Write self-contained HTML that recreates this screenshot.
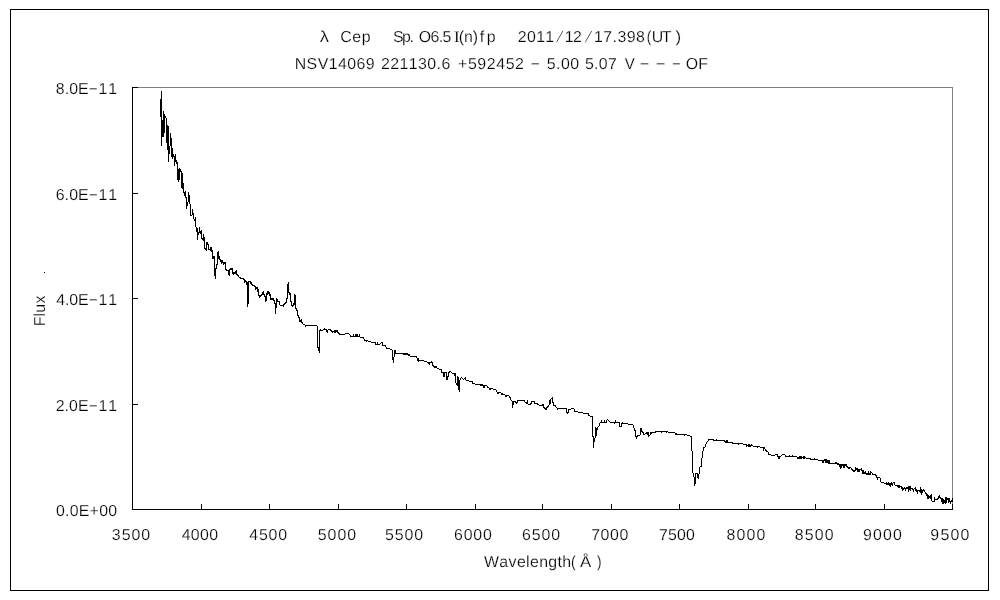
<!DOCTYPE html>
<html><head><meta charset="utf-8"><title>lambda Cep spectrum</title>
<style>
html,body{margin:0;padding:0;background:#fff;}
body{width:1000px;height:600px;overflow:hidden;font-family:"Liberation Sans",sans-serif;}
svg{display:block;position:absolute;left:0;top:0;will-change:transform;}
svg text{font-family:"Liberation Sans",sans-serif;fill:#000;stroke:#fff;stroke-width:0.2px;paint-order:fill stroke;font-kerning:none;white-space:pre;text-rendering:geometricPrecision;}
</style></head>
<body>
<svg width="1000" height="600" viewBox="0 0 1000 600">
<rect x="0" y="0" width="1000" height="600" fill="#fff"/>
<g shape-rendering="crispEdges">
<rect x="10" y="9" width="979" height="1" fill="#000"/>
<rect x="10" y="590" width="979" height="1" fill="#000"/>
<rect x="10" y="9" width="1" height="582" fill="#000"/>
<rect x="988" y="9" width="1" height="582" fill="#000"/>
<rect x="132" y="87" width="821" height="1" fill="#808080"/>
<rect x="952" y="87" width="1" height="423" fill="#808080"/>
<rect x="132" y="87" width="1" height="423" fill="#000"/>
<rect x="132" y="509" width="821" height="1" fill="#000"/>
<rect x="132" y="87" width="6" height="1" fill="#000"/>
<rect x="132" y="193" width="6" height="1" fill="#000"/>
<rect x="132" y="298" width="6" height="1" fill="#000"/>
<rect x="132" y="404" width="6" height="1" fill="#000"/>
<rect x="132" y="509" width="6" height="1" fill="#000"/>
<rect x="201" y="504" width="1" height="6" fill="#000"/>
<rect x="269" y="504" width="1" height="6" fill="#000"/>
<rect x="338" y="504" width="1" height="6" fill="#000"/>
<rect x="406" y="504" width="1" height="6" fill="#000"/>
<rect x="475" y="504" width="1" height="6" fill="#000"/>
<rect x="542" y="504" width="1" height="6" fill="#000"/>
<rect x="611" y="504" width="1" height="6" fill="#000"/>
<rect x="679" y="504" width="1" height="6" fill="#000"/>
<rect x="748" y="504" width="1" height="6" fill="#000"/>
<rect x="815" y="504" width="1" height="6" fill="#000"/>
<rect x="884" y="504" width="1" height="6" fill="#000"/>
<rect x="952" y="504" width="1" height="6" fill="#000"/>
<rect x="132" y="504" width="1" height="6" fill="#000"/>
<rect x="44" y="272" width="1" height="1" fill="#000"/>
<path d="M160 99h1v18h-1zM161 91h1v55h-1zM162 120h1v17h-1zM163 111h1v26h-1zM164 114h1v19h-1zM165 116h1v2h-1zM166 118h1v25h-1zM167 125h1v25h-1zM168 126h1v36h-1zM169 146h1v8h-1zM170 133h1v13h-1zM171 138h1v19h-1zM172 148h1v11h-1zM173 154h1v3h-1zM174 156h1v10h-1zM175 154h1v8h-1zM176 160h1v4h-1zM177 162h1v18h-1zM178 169h1v13h-1zM179 168h1v12h-1zM180 169h1v3h-1zM181 171h1v17h-1zM182 173h1v16h-1zM183 183h1v10h-1zM184 192h1v4h-1zM185 191h1v7h-1zM186 197h1v12h-1zM187 202h1v4h-1zM188 192h1v10h-1zM189 195h1v9h-1zM190 204h1v12h-1zM191 215h1v1h-1zM192 209h1v6h-1zM193 213h1v6h-1zM194 219h1v2h-1zM195 217h1v10h-1zM196 227h1v5h-1zM197 228h1v12h-1zM198 232h1v3h-1zM199 227h1v6h-1zM200 231h1v3h-1zM201 230h1v9h-1zM202 238h1v2h-1zM203 234h1v7h-1zM204 237h1v12h-1zM205 248h1v2h-1zM206 242h1v9h-1zM207 242h1v3h-1zM208 244h1v6h-1zM209 249h1v1h-1zM210 247h1v4h-1zM211 247h1v5h-1zM212 250h1v9h-1zM213 256h1v3h-1zM214 256h1v20h-1zM215 268h1v11h-1zM216 264h1v5h-1zM217 252h1v13h-1zM218 251h1v8h-1zM219 256h1v4h-1zM220 259h1v3h-1zM221 260h1v4h-1zM222 260h1v3h-1zM223 262h1v3h-1zM224 262h1v2h-1zM225 262h1v8h-1zM226 269h1v2h-1zM227 270h1v1h-1zM228 270h1v5h-1zM229 269h1v7h-1zM230 268h1v2h-1zM231 268h1v2h-1zM232 268h1v6h-1zM233 272h1v3h-1zM234 272h1v2h-1zM235 271h1v3h-1zM236 270h1v5h-1zM237 274h1v2h-1zM238 275h1v2h-1zM239 277h1v1h-1zM240 277h1v2h-1zM241 278h1v1h-1zM242 278h1v1h-1zM243 278h1v2h-1zM244 279h1v4h-1zM245 280h1v2h-1zM246 281h1v4h-1zM247 282h1v25h-1zM248 281h1v23h-1zM249 281h1v1h-1zM250 281h1v3h-1zM251 282h1v3h-1zM252 284h1v2h-1zM253 285h1v1h-1zM254 285h1v2h-1zM255 286h1v4h-1zM256 287h1v2h-1zM257 287h1v5h-1zM258 289h1v7h-1zM259 295h1v3h-1zM260 295h1v2h-1zM261 294h1v2h-1zM262 292h1v3h-1zM263 291h1v4h-1zM264 294h1v3h-1zM265 296h1v6h-1zM266 293h1v8h-1zM267 291h1v4h-1zM268 291h1v3h-1zM269 292h1v4h-1zM270 294h1v6h-1zM271 298h1v2h-1zM272 298h1v2h-1zM273 298h1v3h-1zM274 300h1v4h-1zM275 303h1v11h-1zM276 298h1v10h-1zM277 299h1v3h-1zM278 301h1v1h-1zM279 301h1v4h-1zM280 305h1v1h-1zM281 305h1v1h-1zM282 305h1v1h-1zM283 304h1v3h-1zM284 303h1v2h-1zM285 302h1v2h-1zM286 298h1v5h-1zM287 284h1v15h-1zM288 282h1v11h-1zM289 292h1v3h-1zM290 293h1v9h-1zM291 301h1v5h-1zM292 305h1v2h-1zM293 303h1v3h-1zM294 294h1v11h-1zM295 295h1v14h-1zM296 308h1v3h-1zM297 310h1v6h-1zM298 315h1v3h-1zM299 317h1v5h-1zM300 320h1v2h-1zM301 319h1v4h-1zM302 322h1v2h-1zM303 324h1v1h-1zM304 324h1v1h-1zM305 325h1v2h-1zM306 325h1v1h-1zM307 325h1v1h-1zM308 325h1v1h-1zM309 325h1v1h-1zM310 325h1v1h-1zM311 325h1v1h-1zM312 325h1v1h-1zM313 325h1v1h-1zM314 325h1v1h-1zM315 325h1v1h-1zM316 325h1v1h-1zM317 326h1v22h-1zM318 347h1v4h-1zM319 330h1v23h-1zM320 329h1v2h-1zM321 330h1v1h-1zM322 330h1v1h-1zM323 329h1v1h-1zM324 328h1v2h-1zM325 329h1v1h-1zM326 329h1v3h-1zM327 330h1v3h-1zM328 329h1v1h-1zM329 329h1v1h-1zM330 329h1v2h-1zM331 330h1v2h-1zM332 331h1v2h-1zM333 331h1v1h-1zM334 330h1v3h-1zM335 330h1v3h-1zM336 330h1v2h-1zM337 330h1v3h-1zM338 332h1v2h-1zM339 333h1v2h-1zM340 334h1v1h-1zM341 334h1v1h-1zM342 334h1v1h-1zM343 334h1v1h-1zM344 334h1v1h-1zM345 333h1v1h-1zM346 333h1v1h-1zM347 333h1v1h-1zM348 333h1v1h-1zM349 334h1v1h-1zM350 335h1v2h-1zM351 336h1v1h-1zM352 336h1v1h-1zM353 334h1v3h-1zM354 336h1v1h-1zM355 334h1v3h-1zM356 334h1v3h-1zM357 334h1v3h-1zM358 336h1v1h-1zM359 334h1v3h-1zM360 337h1v1h-1zM361 337h1v1h-1zM362 337h1v1h-1zM363 337h1v2h-1zM364 339h1v2h-1zM365 340h1v1h-1zM366 340h1v2h-1zM367 340h1v1h-1zM368 341h1v1h-1zM369 341h1v1h-1zM370 341h1v1h-1zM371 342h1v1h-1zM372 342h1v1h-1zM373 342h1v1h-1zM374 342h1v1h-1zM375 342h1v3h-1zM376 344h1v1h-1zM377 342h1v3h-1zM378 344h1v1h-1zM379 344h1v1h-1zM380 343h1v1h-1zM381 342h1v1h-1zM382 342h1v4h-1zM383 345h1v1h-1zM384 345h1v1h-1zM385 345h1v2h-1zM386 347h1v2h-1zM387 348h1v1h-1zM388 348h1v1h-1zM389 348h1v1h-1zM390 349h1v1h-1zM391 349h1v1h-1zM392 350h1v10h-1zM393 357h1v6h-1zM394 350h1v7h-1zM395 350h1v4h-1zM396 353h1v1h-1zM397 353h1v1h-1zM398 353h1v1h-1zM399 353h1v1h-1zM400 353h1v1h-1zM401 353h1v1h-1zM402 353h1v1h-1zM403 353h1v2h-1zM404 353h1v2h-1zM405 353h1v2h-1zM406 353h1v2h-1zM407 353h1v2h-1zM408 354h1v2h-1zM409 354h1v2h-1zM410 356h1v1h-1zM411 356h1v1h-1zM412 356h1v1h-1zM413 356h1v1h-1zM414 356h1v1h-1zM415 356h1v1h-1zM416 356h1v2h-1zM417 358h1v3h-1zM418 358h1v4h-1zM419 360h1v1h-1zM420 360h1v1h-1zM421 360h1v1h-1zM422 360h1v1h-1zM423 360h1v1h-1zM424 361h1v1h-1zM425 361h1v1h-1zM426 361h1v1h-1zM427 362h1v1h-1zM428 362h1v2h-1zM429 362h1v3h-1zM430 362h1v1h-1zM431 361h1v2h-1zM432 362h1v4h-1zM433 365h1v2h-1zM434 366h1v2h-1zM435 366h1v2h-1zM436 366h1v2h-1zM437 368h1v1h-1zM438 368h1v1h-1zM439 369h1v1h-1zM440 369h1v1h-1zM441 369h1v4h-1zM442 372h1v1h-1zM443 372h1v5h-1zM444 372h1v5h-1zM445 372h1v1h-1zM446 372h1v8h-1zM447 376h1v4h-1zM448 372h1v5h-1zM449 371h1v2h-1zM450 371h1v1h-1zM451 372h1v1h-1zM452 373h1v1h-1zM453 373h1v1h-1zM454 373h1v3h-1zM455 373h1v10h-1zM456 383h1v2h-1zM457 376h1v10h-1zM458 377h1v13h-1zM459 380h1v12h-1zM460 378h1v2h-1zM461 377h1v1h-1zM462 378h1v1h-1zM463 379h1v1h-1zM464 378h1v1h-1zM465 377h1v3h-1zM466 380h1v1h-1zM467 380h1v1h-1zM468 380h1v1h-1zM469 381h1v1h-1zM470 381h1v1h-1zM471 381h1v1h-1zM472 381h1v3h-1zM473 383h1v1h-1zM474 383h1v1h-1zM475 384h1v1h-1zM476 384h1v1h-1zM477 384h1v1h-1zM478 384h1v1h-1zM479 384h1v1h-1zM480 384h1v2h-1zM481 384h1v2h-1zM482 384h1v2h-1zM483 385h1v3h-1zM484 385h1v3h-1zM485 385h1v1h-1zM486 385h1v1h-1zM487 386h1v2h-1zM488 387h1v1h-1zM489 388h1v2h-1zM490 388h1v2h-1zM491 388h1v1h-1zM492 388h1v1h-1zM493 389h1v1h-1zM494 389h1v1h-1zM495 389h1v1h-1zM496 390h1v2h-1zM497 392h1v2h-1zM498 392h1v2h-1zM499 392h1v1h-1zM500 392h1v1h-1zM501 393h1v2h-1zM502 393h1v2h-1zM503 394h1v1h-1zM504 394h1v1h-1zM505 395h1v2h-1zM506 395h1v2h-1zM507 395h1v1h-1zM508 395h1v1h-1zM509 396h1v2h-1zM510 397h1v3h-1zM511 400h1v1h-1zM512 401h1v7h-1zM513 401h1v4h-1zM514 401h1v1h-1zM515 401h1v2h-1zM516 402h1v2h-1zM517 400h1v3h-1zM518 400h1v1h-1zM519 400h1v1h-1zM520 400h1v1h-1zM521 400h1v1h-1zM522 400h1v1h-1zM523 400h1v1h-1zM524 400h1v2h-1zM525 402h1v1h-1zM526 402h1v2h-1zM527 400h1v4h-1zM528 404h1v1h-1zM529 404h1v1h-1zM530 403h1v2h-1zM531 401h1v3h-1zM532 401h1v1h-1zM533 401h1v1h-1zM534 401h1v3h-1zM535 403h1v1h-1zM536 403h1v1h-1zM537 403h1v2h-1zM538 404h1v1h-1zM539 405h1v1h-1zM540 405h1v1h-1zM541 405h1v1h-1zM542 404h1v2h-1zM543 404h1v4h-1zM544 407h1v2h-1zM545 408h1v2h-1zM546 407h1v3h-1zM547 406h1v2h-1zM548 405h1v2h-1zM549 400h1v5h-1zM550 399h1v5h-1zM551 398h1v1h-1zM552 397h1v6h-1zM553 402h1v4h-1zM554 405h1v1h-1zM555 405h1v2h-1zM556 407h1v1h-1zM557 408h1v2h-1zM558 408h1v1h-1zM559 408h1v1h-1zM560 408h1v1h-1zM561 408h1v1h-1zM562 408h1v1h-1zM563 408h1v1h-1zM564 408h1v1h-1zM565 408h1v1h-1zM566 408h1v5h-1zM567 412h1v2h-1zM568 409h1v4h-1zM569 409h1v1h-1zM570 409h1v1h-1zM571 408h1v1h-1zM572 408h1v1h-1zM573 408h1v1h-1zM574 409h1v3h-1zM575 411h1v1h-1zM576 411h1v1h-1zM577 411h1v1h-1zM578 412h1v1h-1zM579 412h1v1h-1zM580 412h1v1h-1zM581 412h1v1h-1zM582 412h1v1h-1zM583 413h1v1h-1zM584 413h1v1h-1zM585 413h1v1h-1zM586 413h1v1h-1zM587 413h1v1h-1zM588 413h1v3h-1zM589 415h1v1h-1zM590 416h1v1h-1zM591 416h1v1h-1zM592 416h1v21h-1zM593 436h1v12h-1zM594 438h1v4h-1zM595 427h1v11h-1zM596 428h1v8h-1zM597 427h1v3h-1zM598 426h1v1h-1zM599 423h1v3h-1zM600 422h1v1h-1zM601 420h1v3h-1zM602 422h1v1h-1zM603 422h1v1h-1zM604 420h1v3h-1zM605 422h1v1h-1zM606 420h1v3h-1zM607 419h1v1h-1zM608 420h1v1h-1zM609 421h1v1h-1zM610 422h1v1h-1zM611 422h1v1h-1zM612 422h1v1h-1zM613 422h1v1h-1zM614 422h1v2h-1zM615 420h1v3h-1zM616 422h1v1h-1zM617 422h1v1h-1zM618 422h1v1h-1zM619 422h1v5h-1zM620 426h1v1h-1zM621 423h1v4h-1zM622 422h1v2h-1zM623 423h1v1h-1zM624 423h1v1h-1zM625 423h1v1h-1zM626 423h1v1h-1zM627 423h1v1h-1zM628 424h1v1h-1zM629 424h1v1h-1zM630 424h1v1h-1zM631 424h1v1h-1zM632 424h1v1h-1zM633 425h1v3h-1zM634 428h1v3h-1zM635 430h1v7h-1zM636 436h1v3h-1zM637 435h1v2h-1zM638 435h1v1h-1zM639 435h1v1h-1zM640 428h1v7h-1zM641 428h1v4h-1zM642 431h1v2h-1zM643 432h1v3h-1zM644 434h1v1h-1zM645 433h1v1h-1zM646 432h1v2h-1zM647 432h1v3h-1zM648 432h1v5h-1zM649 435h1v1h-1zM650 432h1v3h-1zM651 432h1v2h-1zM652 432h1v1h-1zM653 432h1v1h-1zM654 432h1v1h-1zM655 431h1v2h-1zM656 431h1v1h-1zM657 431h1v1h-1zM658 431h1v1h-1zM659 431h1v1h-1zM660 431h1v1h-1zM661 431h1v2h-1zM662 431h1v1h-1zM663 431h1v1h-1zM664 431h1v1h-1zM665 431h1v1h-1zM666 431h1v2h-1zM667 431h1v1h-1zM668 432h1v1h-1zM669 432h1v1h-1zM670 432h1v1h-1zM671 432h1v1h-1zM672 432h1v1h-1zM673 432h1v1h-1zM674 432h1v1h-1zM675 433h1v2h-1zM676 433h1v2h-1zM677 434h1v1h-1zM678 434h1v1h-1zM679 434h1v1h-1zM680 434h1v1h-1zM681 434h1v1h-1zM682 434h1v1h-1zM683 434h1v1h-1zM684 434h1v2h-1zM685 434h1v1h-1zM686 434h1v1h-1zM687 435h1v1h-1zM688 435h1v1h-1zM689 435h1v1h-1zM690 436h1v1h-1zM691 436h1v15h-1zM692 451h1v22h-1zM693 473h1v4h-1zM694 477h1v9h-1zM695 473h1v11h-1zM696 473h1v1h-1zM697 473h1v5h-1zM698 474h1v5h-1zM699 467h1v7h-1zM700 466h1v1h-1zM701 458h1v9h-1zM702 451h1v7h-1zM703 447h1v4h-1zM704 447h1v1h-1zM705 444h1v3h-1zM706 442h1v2h-1zM707 441h1v1h-1zM708 439h1v2h-1zM709 439h1v1h-1zM710 439h1v1h-1zM711 439h1v1h-1zM712 439h1v1h-1zM713 439h1v2h-1zM714 440h1v1h-1zM715 440h1v1h-1zM716 439h1v2h-1zM717 440h1v1h-1zM718 440h1v1h-1zM719 440h1v1h-1zM720 440h1v1h-1zM721 440h1v1h-1zM722 440h1v1h-1zM723 440h1v1h-1zM724 440h1v2h-1zM725 441h1v2h-1zM726 440h1v3h-1zM727 440h1v3h-1zM728 442h1v1h-1zM729 442h1v1h-1zM730 442h1v1h-1zM731 442h1v1h-1zM732 442h1v2h-1zM733 443h1v1h-1zM734 443h1v1h-1zM735 443h1v1h-1zM736 443h1v1h-1zM737 443h1v1h-1zM738 443h1v2h-1zM739 443h1v1h-1zM740 443h1v1h-1zM741 443h1v1h-1zM742 443h1v1h-1zM743 444h1v1h-1zM744 444h1v1h-1zM745 444h1v1h-1zM746 444h1v3h-1zM747 445h1v1h-1zM748 444h1v3h-1zM749 444h1v3h-1zM750 445h1v2h-1zM751 444h1v2h-1zM752 445h1v1h-1zM753 446h1v1h-1zM754 446h1v1h-1zM755 446h1v1h-1zM756 446h1v1h-1zM757 446h1v2h-1zM758 446h1v1h-1zM759 446h1v1h-1zM760 447h1v1h-1zM761 447h1v1h-1zM762 447h1v1h-1zM763 447h1v4h-1zM764 447h1v2h-1zM765 449h1v2h-1zM766 450h1v2h-1zM767 451h1v1h-1zM768 452h1v3h-1zM769 454h1v1h-1zM770 454h1v1h-1zM771 455h1v1h-1zM772 455h1v1h-1zM773 455h1v1h-1zM774 455h1v1h-1zM775 454h1v1h-1zM776 454h1v1h-1zM777 454h1v3h-1zM778 456h1v3h-1zM779 456h1v3h-1zM780 456h1v1h-1zM781 455h1v1h-1zM782 454h1v1h-1zM783 454h1v1h-1zM784 454h1v1h-1zM785 455h1v2h-1zM786 456h1v1h-1zM787 456h1v1h-1zM788 456h1v1h-1zM789 455h1v2h-1zM790 456h1v1h-1zM791 456h1v1h-1zM792 455h1v2h-1zM793 456h1v1h-1zM794 456h1v1h-1zM795 456h1v1h-1zM796 456h1v1h-1zM797 457h1v2h-1zM798 457h1v2h-1zM799 456h1v3h-1zM800 456h1v3h-1zM801 456h1v3h-1zM802 457h1v1h-1zM803 456h1v3h-1zM804 456h1v3h-1zM805 457h1v1h-1zM806 458h1v1h-1zM807 458h1v1h-1zM808 458h1v1h-1zM809 458h1v1h-1zM810 458h1v2h-1zM811 459h1v1h-1zM812 459h1v1h-1zM813 459h1v1h-1zM814 458h1v2h-1zM815 459h1v1h-1zM816 459h1v1h-1zM817 459h1v1h-1zM818 460h1v1h-1zM819 460h1v1h-1zM820 460h1v1h-1zM821 460h1v1h-1zM822 460h1v3h-1zM823 460h1v3h-1zM824 459h1v2h-1zM825 459h1v4h-1zM826 459h1v4h-1zM827 460h1v3h-1zM828 460h1v4h-1zM829 460h1v4h-1zM830 463h1v1h-1zM831 463h1v1h-1zM832 463h1v1h-1zM833 463h1v1h-1zM834 463h1v1h-1zM835 462h1v2h-1zM836 462h1v2h-1zM837 463h1v2h-1zM838 463h1v2h-1zM839 464h1v3h-1zM840 464h1v5h-1zM841 464h1v4h-1zM842 464h1v2h-1zM843 464h1v4h-1zM844 464h1v4h-1zM845 464h1v2h-1zM846 464h1v3h-1zM847 466h1v2h-1zM848 467h1v2h-1zM849 467h1v2h-1zM850 467h1v1h-1zM851 468h1v2h-1zM852 469h1v2h-1zM853 470h1v2h-1zM854 470h1v2h-1zM855 467h1v4h-1zM856 468h1v2h-1zM857 468h1v4h-1zM858 469h1v3h-1zM859 469h1v3h-1zM860 469h1v1h-1zM861 468h1v3h-1zM862 470h1v4h-1zM863 470h1v4h-1zM864 472h1v2h-1zM865 471h1v3h-1zM866 473h1v2h-1zM867 473h1v2h-1zM868 471h1v4h-1zM869 473h1v2h-1zM870 471h1v4h-1zM871 472h1v1h-1zM872 473h1v2h-1zM873 474h1v1h-1zM874 474h1v1h-1zM875 474h1v2h-1zM876 475h1v3h-1zM877 477h1v3h-1zM878 477h1v1h-1zM879 477h1v1h-1zM880 478h1v4h-1zM881 482h1v1h-1zM882 482h1v1h-1zM883 482h1v1h-1zM884 483h1v1h-1zM885 483h1v1h-1zM886 482h1v3h-1zM887 483h1v2h-1zM888 482h1v3h-1zM889 483h1v3h-1zM890 483h1v4h-1zM891 482h1v3h-1zM892 483h1v3h-1zM893 482h1v1h-1zM894 482h1v3h-1zM895 485h1v1h-1zM896 485h1v1h-1zM897 485h1v2h-1zM898 485h1v3h-1zM899 485h1v3h-1zM900 486h1v1h-1zM901 486h1v3h-1zM902 487h1v4h-1zM903 488h1v2h-1zM904 487h1v2h-1zM905 488h1v3h-1zM906 487h1v2h-1zM907 487h1v2h-1zM908 486h1v6h-1zM909 486h1v4h-1zM910 486h1v5h-1zM911 488h1v1h-1zM912 488h1v2h-1zM913 489h1v3h-1zM914 488h1v1h-1zM915 487h1v4h-1zM916 489h1v3h-1zM917 490h1v4h-1zM918 490h1v1h-1zM919 490h1v2h-1zM920 487h1v6h-1zM921 489h1v6h-1zM922 490h1v3h-1zM923 489h1v2h-1zM924 490h1v2h-1zM925 492h1v2h-1zM926 493h1v3h-1zM927 494h1v5h-1zM928 495h1v4h-1zM929 496h1v2h-1zM930 495h1v4h-1zM931 494h1v7h-1zM932 501h1v1h-1zM933 501h1v1h-1zM934 497h1v5h-1zM935 499h1v1h-1zM936 499h1v1h-1zM937 498h1v2h-1zM938 496h1v3h-1zM939 495h1v3h-1zM940 497h1v2h-1zM941 498h1v4h-1zM942 498h1v6h-1zM943 499h1v5h-1zM944 500h1v3h-1zM945 497h1v7h-1zM946 497h1v6h-1zM947 498h1v2h-1zM948 498h1v5h-1zM949 498h1v4h-1zM950 501h1v3h-1zM951 500h1v2h-1zM952 498h1v4h-1z" fill="#000"/>
</g>
<g>
<text transform="translate(319.87,42) scale(1.169,1)" font-size="15.9">λ</text>
<text x="340.19" y="42" font-size="15.9" style="letter-spacing:0.653px">Cep</text>
<text x="392.88" y="42" font-size="15.9" style="letter-spacing:-1.396px">Sp.</text>
<text x="418.85" y="42" font-size="15.9" style="letter-spacing:-0.683px">O6.5</text>
<text transform="translate(453.74,42) scale(1.153,1)" font-size="15.9" style="font-family:'Liberation Serif'">I</text>
<text x="458.81" y="42" font-size="15.9" style="letter-spacing:-0.130px">(n)</text>
<text x="479.77" y="42" font-size="15.9" style="letter-spacing:2.632px">fp</text>
<text x="517.80" y="42" font-size="15.9" style="letter-spacing:0.335px">2011</text>
<text transform="translate(555.30,42) scale(2.105,1)" font-size="15.9" style="stroke-width:0.86px">/</text>
<text x="564.79" y="42" font-size="15.9" style="letter-spacing:-0.575px">12</text>
<text transform="translate(584.10,42) scale(2.105,1)" font-size="15.9" style="stroke-width:0.86px">/</text>
<text x="593.99" y="42" font-size="15.9" style="letter-spacing:0.434px">17.398</text>
<text transform="translate(646.86,42) scale(0.854,1)" font-size="15.9">(</text>
<text x="651.87" y="42" font-size="15.9" style="letter-spacing:-1.603px">UT</text>
<text transform="translate(675.50,42) scale(1.067,1)" font-size="15.9">)</text>
<text x="294.70" y="69" font-size="15.9" style="letter-spacing:0.450px">NSV14069</text>
<text x="381.00" y="69" font-size="15.9" style="letter-spacing:0.426px">221130.6</text>
<text x="458.02" y="69" font-size="15.9" style="letter-spacing:0.606px">+592452</text>
<text transform="translate(529.90,67.72) scale(1.984,1)" font-size="15.9">-</text>
<text x="546.76" y="69" font-size="15.9" style="letter-spacing:0.504px">5.00</text>
<text x="584.96" y="69" font-size="15.9" style="letter-spacing:0.297px">5.07</text>
<text transform="translate(624.73,69) scale(0.946,1)" font-size="15.9">V</text>
<text transform="translate(639.18,67.72) scale(2.009,1)" font-size="15.9">-</text>
<text transform="translate(655.24,67.72) scale(2.061,1)" font-size="15.9">-</text>
<text transform="translate(671.49,67.72) scale(1.855,1)" font-size="15.9">-</text>
<text x="685.65" y="69" font-size="15.9" style="letter-spacing:0.210px">OF</text>
<text x="55.81" y="94" font-size="15.9" style="letter-spacing:0.055px">8.0E</text>
<text transform="translate(88.25,92.72) scale(1.906,1)" font-size="15.9">-</text>
<text x="98.39" y="94" font-size="15.9" style="letter-spacing:1.102px">11</text>
<text x="55.69" y="200" font-size="15.9" style="letter-spacing:0.094px">6.0E</text>
<text transform="translate(88.25,198.72) scale(1.906,1)" font-size="15.9">-</text>
<text x="98.39" y="200" font-size="15.9" style="letter-spacing:1.102px">11</text>
<text x="56.14" y="305" font-size="15.9" style="letter-spacing:-0.053px">4.0E</text>
<text transform="translate(88.25,303.72) scale(1.906,1)" font-size="15.9">-</text>
<text x="98.39" y="305" font-size="15.9" style="letter-spacing:1.102px">11</text>
<text x="55.70" y="411" font-size="15.9" style="letter-spacing:0.092px">2.0E</text>
<text transform="translate(88.25,409.72) scale(1.906,1)" font-size="15.9">-</text>
<text x="98.39" y="411" font-size="15.9" style="letter-spacing:1.102px">11</text>
<text x="55.88" y="516" font-size="15.9" style="letter-spacing:0.260px">0.0E+00</text>
<text x="111.79" y="540" font-size="15.9" style="letter-spacing:1.018px">3500</text>
<text x="181.64" y="540" font-size="15.9" style="letter-spacing:0.405px">4000</text>
<text x="249.24" y="540" font-size="15.9" style="letter-spacing:0.805px">4500</text>
<text x="317.76" y="540" font-size="15.9" style="letter-spacing:1.029px">5000</text>
<text x="384.96" y="540" font-size="15.9" style="letter-spacing:0.962px">5500</text>
<text x="453.99" y="540" font-size="15.9" style="letter-spacing:0.819px">6000</text>
<text x="521.89" y="540" font-size="15.9" style="letter-spacing:0.986px">6500</text>
<text x="591.18" y="540" font-size="15.9" style="letter-spacing:0.588px">7000</text>
<text x="658.88" y="540" font-size="15.9" style="letter-spacing:0.222px">7500</text>
<text x="726.61" y="540" font-size="15.9" style="letter-spacing:1.114px">8000</text>
<text x="794.71" y="540" font-size="15.9" style="letter-spacing:1.214px">8500</text>
<text x="863.05" y="540" font-size="15.9" style="letter-spacing:1.132px">9000</text>
<text x="930.35" y="540" font-size="15.9" style="letter-spacing:1.232px">9500</text>
<text x="484.03" y="567" font-size="15.9" style="letter-spacing:0.360px">Wavelength</text>
<text transform="translate(570.93,567) scale(0.878,1)" font-size="15.9">(</text>
<text transform="translate(579.97,567) scale(1.062,1)" font-size="15.9">Å</text>
<text transform="translate(596.92,567) scale(0.854,1)" font-size="15.9">)</text>
<text x="-1.30" y="0" font-size="15.9" transform="translate(45,325) rotate(-90)" style="letter-spacing:0.212px">Flux</text>
</g>
</svg>
</body></html>
